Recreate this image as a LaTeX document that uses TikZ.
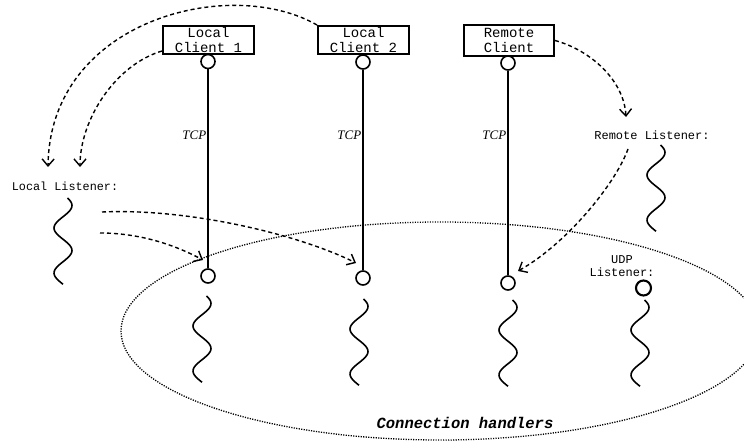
\documentclass[tikz,border=0pt]{standalone}
\usepackage{fontspec}
\setmainfont{Liberation Serif}
\newfontfamily\monofont{Liberation Mono}
\usetikzlibrary{arrows.meta}

\begin{document}
\begin{tikzpicture}[x=1pt,y=-1pt,
  box/.style={draw, line width=2pt, minimum width=91pt, minimum height=28pt,
    inner sep=0pt, align=center, font=\monofont\fontsize{14}{14.5}\selectfont},
  port/.style={circle, draw, line width=1.6pt, minimum size=14pt, inner sep=0pt},
  link/.style={line width=2pt},
  tcp/.style={font=\itshape\fontsize{13}{14}\selectfont, inner sep=0.5pt, anchor=east},
  lbl/.style={font=\monofont\fontsize{12}{13}\selectfont, inner sep=0pt, align=center},
  flow/.style={line width=1.4pt, dash pattern=on 4pt off 3pt,
    -{Straight Barb[length=7pt,width=12pt,line width=1.4pt]}},
  group/.style={line width=1.3pt, dash pattern=on 1.2pt off 1.3pt},
  squiggle/.pic={\draw[line width=1.6pt] plot[smooth, samples=50, domain=30:720]
    ({9*sin(\x)}, {(\x-30)/360*45});}
]
\useasboundingbox (0,0) rectangle (744,441);
\clip (0,0) rectangle (744,441);

% clients
\node[box] (lc1) at (208.5,40) {Local\\Client 1};
\node[box] (lc2) at (363.5,40) {Local\\Client 2};
\node[box, minimum width=90pt, minimum height=31pt] (rc) at (509,40.5) {Remote\\Client};

% client sockets and handler sockets
\node[port] (p1t) at (208,61.5) {};
\node[port] (p1b) at (208,276) {};
\node[port] (p2t) at (363,62) {};
\node[port] (p2b) at (363,278) {};
\node[port] (p3t) at (508,63) {};
\node[port] (p3b) at (508,283) {};
\node[port, line width=2.1pt, minimum size=15pt] (udp) at (643.5,288) {};

% TCP connections
\draw[link] (p1t) -- (p1b);
\draw[link] (p2t) -- (p2b);
\draw[link] (p3t) -- (p3b);
\node[tcp] (tcp1) at (207,135) {TCP};
\node[tcp] (tcp2) at (362,135) {TCP};
\node[tcp] (tcp3) at (507,135) {TCP};

% listener labels
\node[lbl, font=\monofont\fontsize{11.8}{12}\selectfont] (ll) at (65,186) {Local Listener:};
\node[lbl] (rl) at (652,135) {Remote Listener:};
\node[lbl] (ul) at (622,266) {UDP\\Listener:};

% threads
\pic at (63,198) {squiggle};
\pic at (656,145) {squiggle};
\pic at (202,296) {squiggle};
\pic at (359,299) {squiggle};
\pic at (508,300) {squiggle};
\pic at (640,300) {squiggle};

% group of connection handlers
\draw[group] (440,331) ellipse [x radius=319, y radius=109];
\node[font=\monofont\bfseries\itshape\fontsize{15.5}{16}\selectfont] (ch) at (465,423) {Connection handlers};

% control flow
\coordinate (llin1) at (48,167);
\coordinate (llin2) at (80,167);
\coordinate (rlin) at (626,117);
\coordinate (rlout) at (628,149);
\coordinate (llout1) at (102,212);
\coordinate (llout2) at (100,233);
\coordinate (t1) at (203,260);
\coordinate (t2) at (356,263);
\coordinate (t3) at (518,271);

\draw[flow] (lc2.north west) .. controls (230,-25) and (50,20) .. (llin1);
\draw[flow] ([yshift=4pt]lc1.south west) .. controls (115,65) and (80,120) .. (llin2);
\draw[flow] (rc.east) .. controls (590,50) and (624,80) .. (rlin);
\draw[flow] (rlout) .. controls (615,185) and (565,245) .. (t3);
\draw[flow] (llout1) .. controls (190,208) and (300,235) .. (t2);
\draw[flow] (llout2) .. controls (140,233) and (175,245) .. (t1);
\end{tikzpicture}
\end{document}
